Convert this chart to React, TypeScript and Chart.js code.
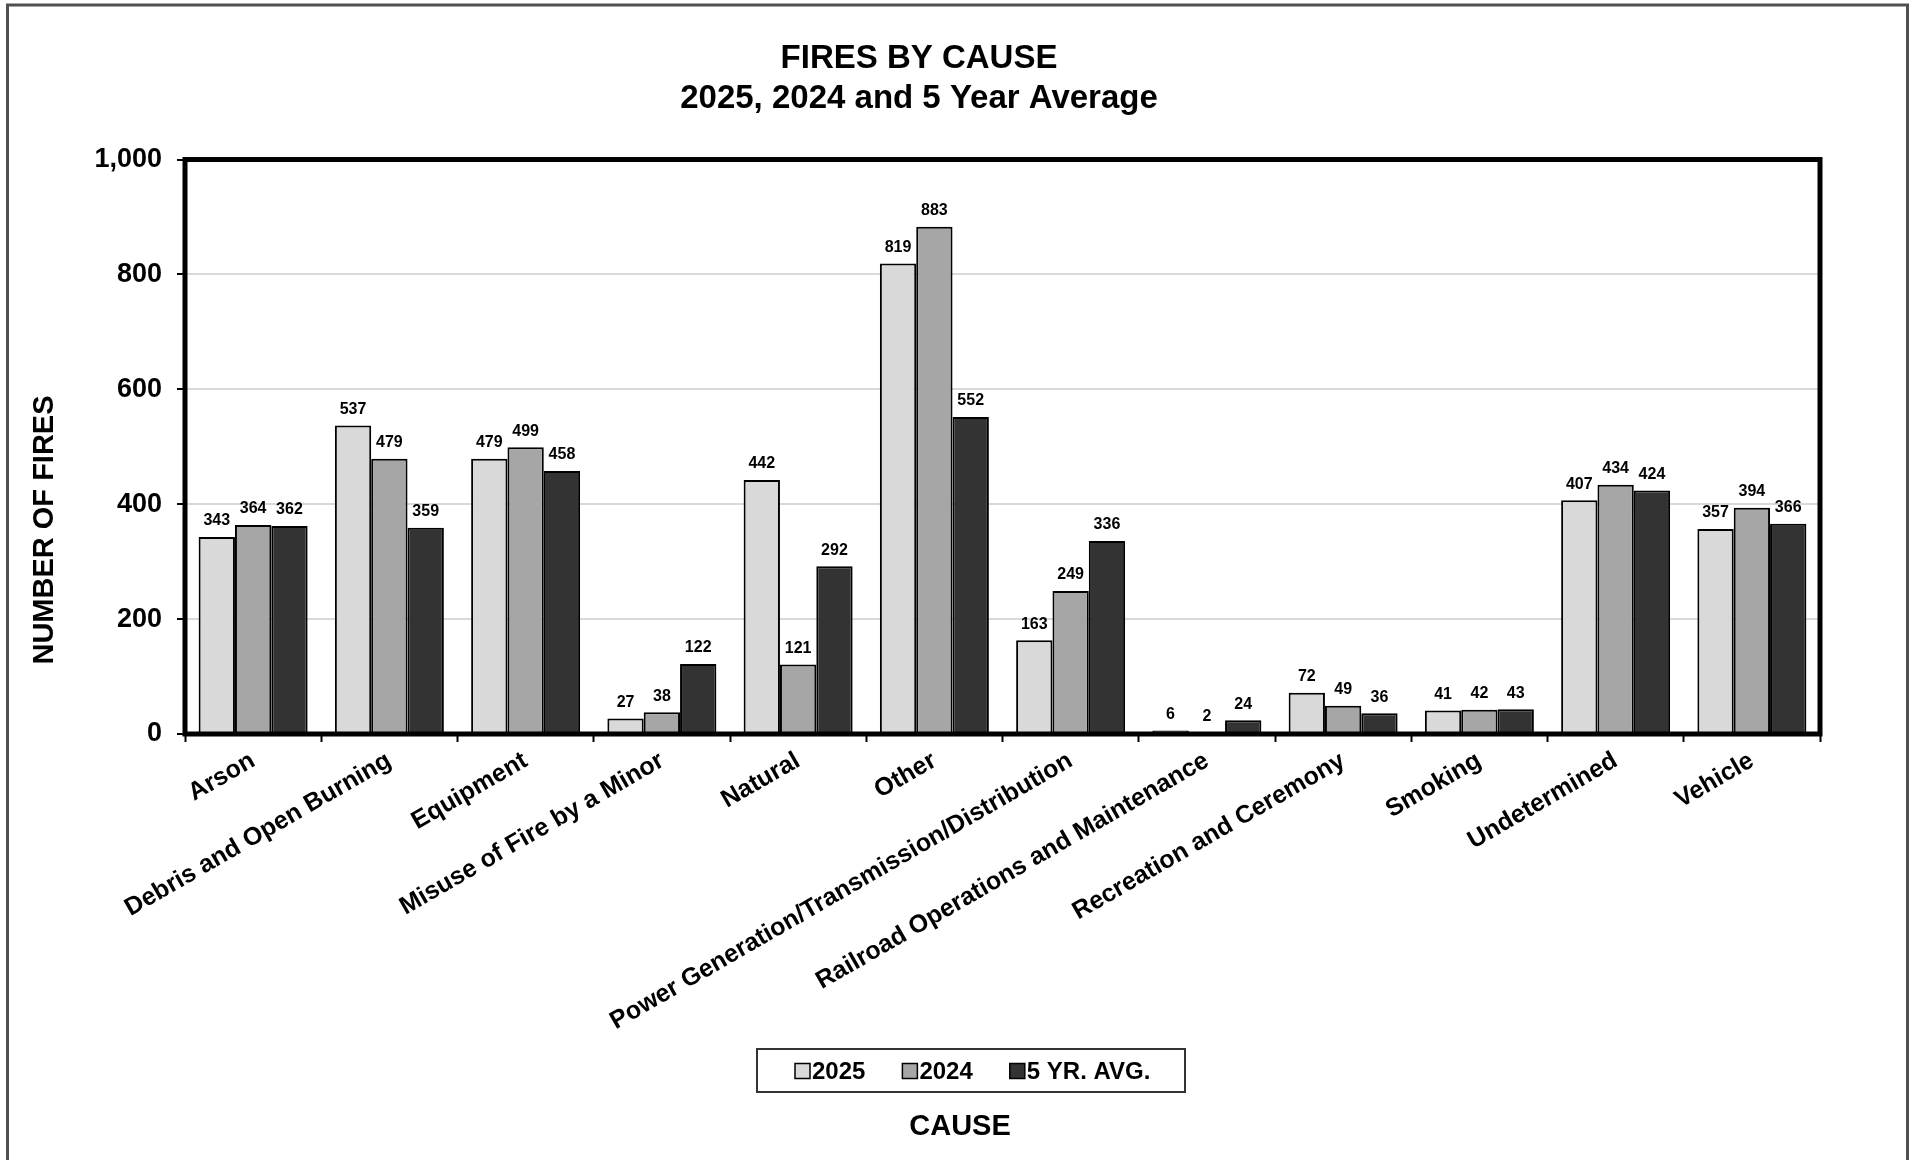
import React, { useEffect, useRef } from 'react';
import { Chart, registerables } from 'chart.js';

Chart.register(...registerables);

const FONT = "'Liberation Sans', Arial, Helvetica, sans-serif";

const categories = [
  'Arson',
  'Debris and Open Burning',
  'Equipment',
  'Misuse of Fire by a Minor',
  'Natural',
  'Other',
  'Power Generation/Transmission/Distribution',
  'Railroad Operations and Maintenance',
  'Recreation and Ceremony',
  'Smoking',
  'Undetermined',
  'Vehicle',
];

const fires2025 = [343, 537, 479, 27, 442, 819, 163, 6, 72, 41, 407, 357];
const fires2024 = [364, 479, 499, 38, 121, 883, 249, 2, 49, 42, 434, 394];
const fiveYearAvg = [362, 359, 458, 122, 292, 552, 336, 24, 36, 43, 424, 366];

const seriesLabels = ['2025', '2024', '5 YR. AVG.'];
const seriesColors = ['#d9d9d9', '#a6a6a6', '#333333'];

const titleLines = ['FIRES BY CAUSE', '2025, 2024 and 5 Year Average'];
const yTitle = 'NUMBER OF FIRES';
const xTitle = 'CAUSE';
const yTicks = { min: 0, max: 1000, step: 200 };

const decorPlugin = {
  id: 'decor',
  beforeDraw(chart: any) {
    const { ctx } = chart;
    ctx.save();
    ctx.fillStyle = '#ffffff';
    ctx.fillRect(0, 0, chart.width, chart.height);
    ctx.strokeStyle = '#505050';
    ctx.lineWidth = 3;
    ctx.strokeRect(7.5, 5, 1900, 1175);
    ctx.restore();
  },
  afterDatasetsDraw(chart: any) {
    const { ctx, chartArea } = chart;
    ctx.save();
    // plot frame
    ctx.strokeStyle = '#000';
    ctx.lineWidth = 5;
    ctx.strokeRect(chartArea.left, chartArea.top, chartArea.right - chartArea.left, chartArea.bottom - chartArea.top);
    // data labels
    ctx.fillStyle = '#000';
    ctx.font = `bold 16px ${FONT}`;
    ctx.textAlign = 'center';
    ctx.textBaseline = 'bottom';
    chart.data.datasets.forEach((ds: any, di: number) => {
      const meta = chart.getDatasetMeta(di);
      meta.data.forEach((bar: any, i: number) => {
        ctx.fillText(String(ds.data[i]), bar.x, bar.y - 8);
      });
    });
    ctx.restore();
  },
  afterDraw(chart: any) {
    const { ctx } = chart;
    ctx.save();
    ctx.fillStyle = '#000';
    // y title
    ctx.font = `bold 29px ${FONT}`;
    ctx.textAlign = 'center';
    ctx.textBaseline = 'middle';
    ctx.translate(45, 530);
    ctx.rotate(-Math.PI / 2);
    ctx.fillText(yTitle, 0, 0);
    ctx.setTransform(1, 0, 0, 1, 0, 0);
    // x title
    ctx.fillText(xTitle, 960, 1127);
    // legend
    ctx.strokeStyle = '#333';
    ctx.lineWidth = 2;
    ctx.strokeRect(757, 1049, 428, 43);
    ctx.font = `bold 24px ${FONT}`;
    ctx.textAlign = 'left';
    let x = 795;
    const cy = 1071;
    chart.data.datasets.forEach((ds: any) => {
      ctx.fillStyle = ds.backgroundColor;
      ctx.fillRect(x, cy - 7.5, 15, 15);
      ctx.strokeStyle = '#000';
      ctx.lineWidth = 1.5;
      ctx.strokeRect(x, cy - 7.5, 15, 15);
      ctx.fillStyle = '#000';
      ctx.fillText(ds.label, x + 17, cy + 1);
      x += 17 + ctx.measureText(ds.label).width + 37;
    });
    ctx.restore();
  },
};

export default function App() {
  const ref = useRef<HTMLCanvasElement | null>(null);

  useEffect(() => {
    if (!ref.current) return;
    const values = [fires2025, fires2024, fiveYearAvg];
    const chart = new Chart(ref.current, {
      type: 'bar',
      data: {
        labels: categories,
        datasets: values.map((d, i) => ({
          label: seriesLabels[i],
          data: d,
          backgroundColor: seriesColors[i],
          borderColor: '#000',
          borderWidth: 2,
          barPercentage: 1,
          categoryPercentage: 0.8,
        })),
      },
      options: {
        responsive: false,
        animation: false,
        devicePixelRatio: 1,
        layout: { padding: { left: 18, right: 97, top: 0, bottom: 126 } },
        plugins: {
          legend: { display: false },
          tooltip: { enabled: false },
          title: {
            display: true,
            text: titleLines,
            color: '#000',
            font: { family: FONT, size: 33, weight: 'bold', lineHeight: 1.22 },
            padding: { top: 39, bottom: 40 },
          },
        },
        scales: {
          x: {
            border: { display: false },
            grid: {
              display: true,
              drawOnChartArea: false,
              drawTicks: true,
              tickLength: 8,
              tickColor: '#000',
              tickWidth: 2,
              offset: true,
            },
            ticks: {
              autoSkip: false,
              minRotation: 30,
              maxRotation: 30,
              color: '#000',
              padding: 4,
              font: { family: FONT, size: 25, weight: 'bold' },
            },
            afterFit(s: any) {
              s.height = 300;
              s.paddingLeft = 0;
              s.paddingRight = 0;
            },
          },
          y: {
            min: yTicks.min,
            max: yTicks.max,
            border: { display: false },
            grid: {
              color: '#d9d9d9',
              lineWidth: 2,
              tickColor: '#000',
              tickLength: 8,
              tickWidth: 2,
            },
            ticks: {
              stepSize: yTicks.step,
              color: '#000',
              padding: 15,
              font: { family: FONT, size: 27, weight: 'bold' },
              callback: (v: any) => Number(v).toLocaleString('en-US'),
            },
            afterFit(s: any) {
              s.width = 167;
              s.paddingTop = 0;
              s.paddingBottom = 0;
            },
          },
        },
      },
      plugins: [decorPlugin],
    });
    return () => chart.destroy();
  }, []);

  return (
    <div style={{ position: 'fixed', left: 0, top: 0, width: 1917, height: 1160 }}>
      <canvas ref={ref} width={1917} height={1160} style={{ display: 'block' }} />
    </div>
  );
}
